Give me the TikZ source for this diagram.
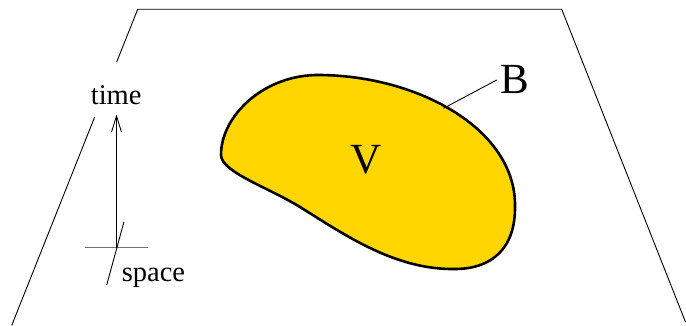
\documentclass[tikz,border=0pt]{standalone}
\usepackage{fontspec}
\setmainfont{Liberation Serif}
\usetikzlibrary{arrows.meta}
\definecolor{blobfill}{RGB}{255,214,0}
\tikzset{
  thinline/.style={line width=0.9pt, black},
  axislabel/.style={font=\fontsize{28.5}{31}\selectfont, inner sep=0pt, anchor=base},
  biglabel/.style={font=\fontsize{43}{46}\selectfont, inner sep=0pt, anchor=base},
  blobline/.style={line width=2.6pt, black, fill=blobfill, line join=round}
}
\begin{document}
\begin{tikzpicture}[x=1pt,y=-1pt]
\useasboundingbox (0,0) rectangle (686,326);
% plane
\coordinate (tl) at (137.7,9.3);
\coordinate (tr) at (561.7,9.3);
\coordinate (br) at (685.5,322);
\coordinate (bl) at (11.7,325.5);
\coordinate (la) at (116.8,61.7);
\coordinate (lb) at (94.8,116.7);
\draw[thinline] (la) -- (tl) -- (tr) -- (br);
\draw[thinline] (lb) -- (bl);
% blob
\draw[blobline] (221,155)
  .. controls (221,115) and (265,74) .. (320,75)
  .. controls (420,76) and (515,130) .. (515,205)
  .. controls (516,250) and (490,269) .. (455,269)
  .. controls (395,270) and (345,235) .. (300,207)
  .. controls (270,188.3) and (221,172) .. (221,155) -- cycle;
\node[biglabel] (V) at (366,174) {V};
\node[biglabel] (B) at (515,93.3) {B};
\coordinate (bpt) at (443.5,108.3);
\coordinate (bend) at (496.7,80);
\draw[thinline] (bpt) -- (bend);
% axes
\node[axislabel] (time) at (116.2,105) {time};
\node[axislabel] (space) at (153.5,281.7) {space};
\coordinate (orig) at (116.5,247.7);
\coordinate (top) at (116.5,114.5);
\coordinate (hl) at (85,247.7);
\coordinate (hr) at (148.3,247.7);
\coordinate (sa) at (124,221.7);
\coordinate (sb) at (106.7,285);
\draw[line width=1.3pt, black!55] (hl) -- (hr);
\draw[thinline, -{Straight Barb[length=16pt,width=10pt,line width=0.9pt]}] (orig) -- (top);
\draw[thinline] (sa) -- (sb);
\end{tikzpicture}
\end{document}
